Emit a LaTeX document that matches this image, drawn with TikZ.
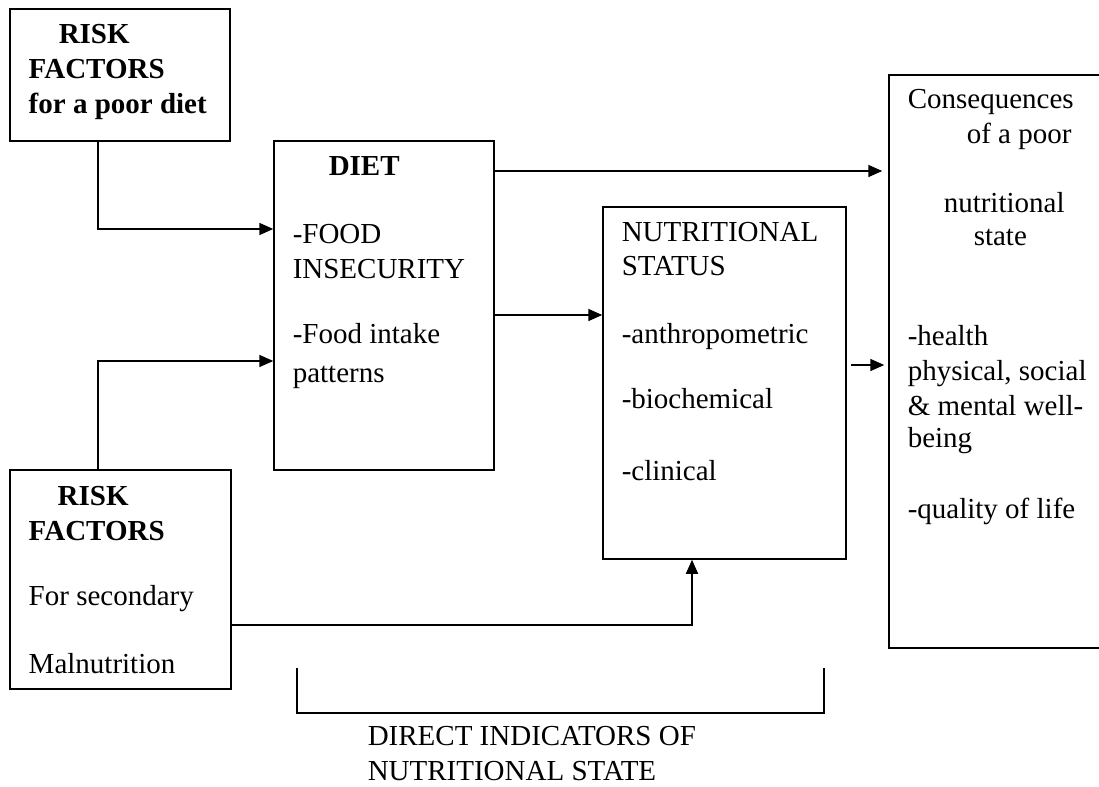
\documentclass[tikz,border=0pt]{standalone}
\usepackage{fontspec}
\setmainfont{Liberation Serif}
\usetikzlibrary{arrows.meta}

\begin{document}
\begin{tikzpicture}
  [x=0.5pt, y=-0.5pt, line width=0.75pt,
   box/.style = {draw, rectangle, inner sep=0pt},
   txt/.style = {anchor=base west, inner sep=0pt,
                 font=\fontsize{14.5}{17}\selectfont},
   btxt/.style = {txt, font=\fontsize{14.5}{17}\selectfont\bfseries},
   arr/.style = {-{Triangle[length=7pt,width=6pt]}}]
  \useasboundingbox (0,0) rectangle (1099,787);
  % Risk factors, poor diet
  \node[box, minimum width=110pt, minimum height=66pt] (RF1) at (120,75) {};
  \node[btxt] (rf1a) at (58,43) {RISK};
  \node[btxt] (rf1b) at (28,78) {FACTORS};
  \node[btxt] (rf1c) at (28,113) {for a poor diet};
  % Diet
  \node[box, minimum width=110pt, minimum height=164.5pt] (DIET) at (384,305.5) {};
  \node[btxt] (dia) at (328,175) {DIET};
  \node[txt] (dib) at (292,243) {-FOOD};
  \node[txt] (dic) at (292,278) {INSECURITY};
  \node[txt] (did) at (292,343) {-Food intake};
  \node[txt] (die) at (292,382) {patterns};
  % Nutritional status
  \node[box, minimum width=121.5pt, minimum height=176pt] (NUTR) at (724.5,383) {};
  \node[txt] (nua) at (621,241) {NUTRITIONAL};
  \node[txt] (nub) at (621,275) {STATUS};
  \node[txt] (nuc) at (621,343) {-anthropometric};
  \node[txt] (nud) at (621,408) {-biochemical};
  \node[txt] (nue) at (621,480) {-clinical};
  % Consequences
  \node[box, minimum width=110.5pt, minimum height=286.5pt] (CONS) at (999.5,361.5) {};
  \node[txt] (coa) at (907,108) {Consequences};
  \node[txt] (cob) at (966,143) {of a poor};
  \node[txt] (coc) at (943,212) {nutritional};
  \node[txt] (cod) at (973,245) {state};
  \node[txt] (coe) at (907,345) {-health};
  \node[txt] (cof) at (907,380) {physical, social};
  \node[txt] (cog) at (907,415) {\& mental well-};
  \node[txt] (coh) at (907,447) {being};
  \node[txt] (coi) at (907,518) {-quality of life};
  % Risk factors, secondary malnutrition
  \node[box, minimum width=110.5pt, minimum height=109.5pt] (RF2) at (120.5,579.5) {};
  \node[btxt] (rf2a) at (57,505) {RISK};
  \node[btxt] (rf2b) at (28,540) {FACTORS};
  \node[txt] (rf2c) at (28,605) {For secondary};
  \node[txt] (rf2d) at (28,673) {Malnutrition};
  % Connectors
  \coordinate (p1) at (98,229);
  \coordinate (p2) at (98,361);
  \coordinate (p3) at (0,171);
  \coordinate (p4) at (0,315);
  \coordinate (p5) at (0,365);
  \coordinate (p6) at (692,625);
  \draw[arr] (RF1.south -| p1) |- (DIET.west |- p1);
  \draw[arr] (RF2.north -| p2) |- (DIET.west |- p2);
  \draw[arr, shorten >=3pt] (DIET.east |- p3) -- (CONS.west |- p3);
  \draw[arr] (DIET.east |- p4) -- (NUTR.west |- p4);
  \draw[arr, shorten <=2pt, shorten >=2pt] (NUTR.east |- p5) -- (CONS.west |- p5);
  \draw[arr] (RF2.east |- p6) -| (NUTR.south -| p6);
  % Bracket
  \draw (297,668) -- (297,713) -- (824,713) -- (824,668);
  \node[txt] (bra) at (367,745) {DIRECT INDICATORS OF};
  \node[txt] (brb) at (367,780) {NUTRITIONAL STATE};
\end{tikzpicture}
\end{document}
